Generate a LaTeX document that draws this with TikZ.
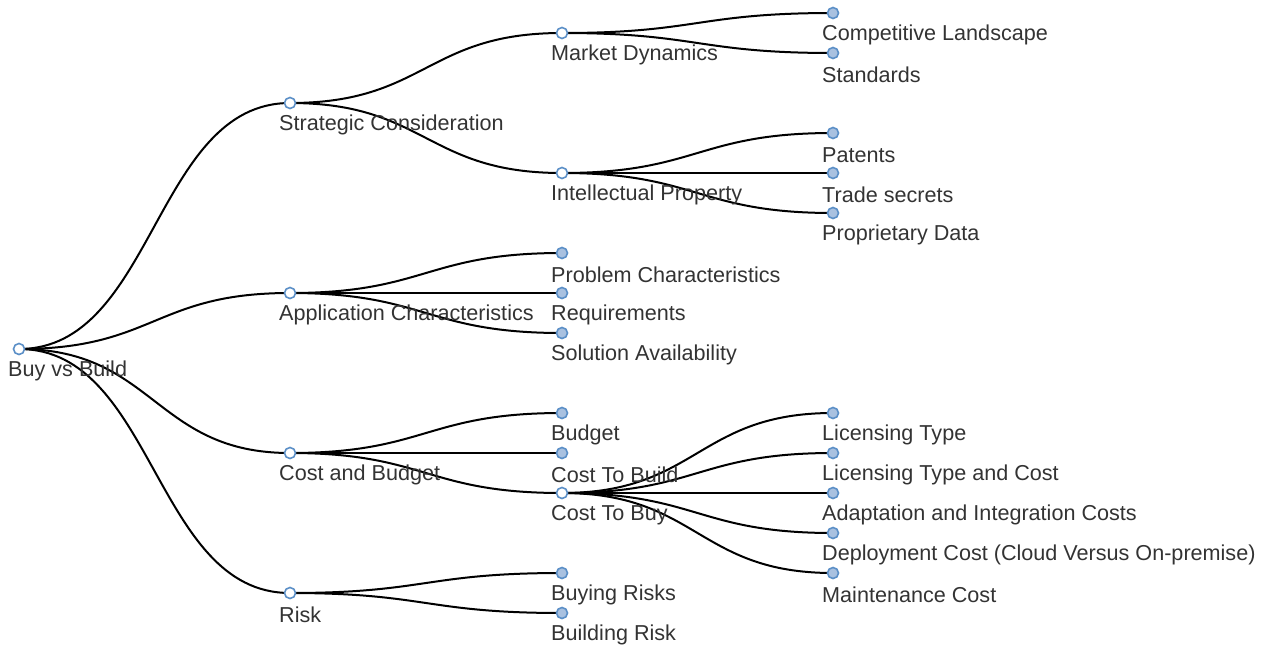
\documentclass[tikz,border=0pt]{standalone}
\usepackage{fontspec}
\setmainfont{Liberation Sans}
\usetikzlibrary{calc,backgrounds}
\definecolor{nodestroke}{HTML}{5B8FC7}
\definecolor{leaffill}{HTML}{A9C1E0}
\definecolor{txtcol}{HTML}{333333}
\tikzset{
  inner/.style={circle,draw=nodestroke,fill=white,line width=1.6pt,minimum size=11pt,inner sep=0pt},
  leaf/.style={circle,draw=nodestroke,fill=leaffill,line width=1.6pt,minimum size=11pt,inner sep=0pt},
  lbl/.style={anchor=west,inner sep=0pt,text=txtcol,font=\fontsize{21.6}{24}\selectfont},
  link/.style={draw=black,line width=2pt}
}
\newcommand{\lnk}[2]{%
  \draw[link] let \p1=(#1.center), \p2=(#2.center) in
    (\p1) .. controls ({0.5*(\x1+\x2)},\y1) and ({0.5*(\x1+\x2)},\y2) .. (\p2);}
\newcommand{\nd}[5]{% style, name, x, y, text
  \node[#1] (#2) at (#3,#4) {};
  \node[lbl] (#2-t) at ($(#2)+(-11,22)$) {#5};}
\begin{document}
\begin{tikzpicture}[x=1pt,y=-1pt]
\useasboundingbox (0,0) rectangle (1270,649);
\nd{inner}{root}{19}{349}{Buy vs Build}
\nd{inner}{sc}{290}{103}{Strategic Consideration}
\nd{inner}{ac}{290}{293}{Application Characteristics}
\nd{inner}{cb}{290}{453}{Cost and Budget}
\nd{inner}{rk}{290}{593}{Risk}
\nd{inner}{md}{562}{33}{Market Dynamics}
\nd{inner}{ip}{562}{173}{Intellectual Property}
\nd{leaf}{cl}{833}{13}{Competitive Landscape}
\nd{leaf}{st}{833}{53}{Standards}
\nd{leaf}{pa}{833}{133}{Patents}
\nd{leaf}{ts}{833}{173}{Trade secrets}
\nd{leaf}{pd}{833}{213}{Proprietary Data}
\nd{leaf}{pc}{562}{253}{Problem Characteristics}
\nd{leaf}{rq}{562}{293}{Requirements}
\nd{leaf}{sa}{562}{333}{Solution Availability}
\nd{leaf}{bu}{562}{413}{Budget}
\nd{leaf}{ctb}{562}{453}{Cost To Build}
\nd{inner}{cty}{562}{493}{Cost To Buy}
\nd{leaf}{lt}{833}{413}{Licensing Type}
\nd{leaf}{ltc}{833}{453}{Licensing Type and Cost}
\nd{leaf}{aic}{833}{493}{Adaptation and Integration Costs}
\nd{leaf}{dc}{833}{533}{Deployment Cost (Cloud Versus On-premise)}
\nd{leaf}{mc}{833}{573}{Maintenance Cost}
\nd{leaf}{br}{562}{573}{Buying Risks}
\nd{leaf}{bdr}{562}{613}{Building Risk}
\begin{pgfonlayer}{background}
\lnk{root}{sc}\lnk{root}{ac}\lnk{root}{cb}\lnk{root}{rk}
\lnk{sc}{md}\lnk{sc}{ip}
\lnk{md}{cl}\lnk{md}{st}
\lnk{ip}{pa}\lnk{ip}{ts}\lnk{ip}{pd}
\lnk{ac}{pc}\lnk{ac}{rq}\lnk{ac}{sa}
\lnk{cb}{bu}\lnk{cb}{ctb}\lnk{cb}{cty}
\lnk{cty}{lt}\lnk{cty}{ltc}\lnk{cty}{aic}\lnk{cty}{dc}\lnk{cty}{mc}
\lnk{rk}{br}\lnk{rk}{bdr}
\end{pgfonlayer}
\end{tikzpicture}
\end{document}
